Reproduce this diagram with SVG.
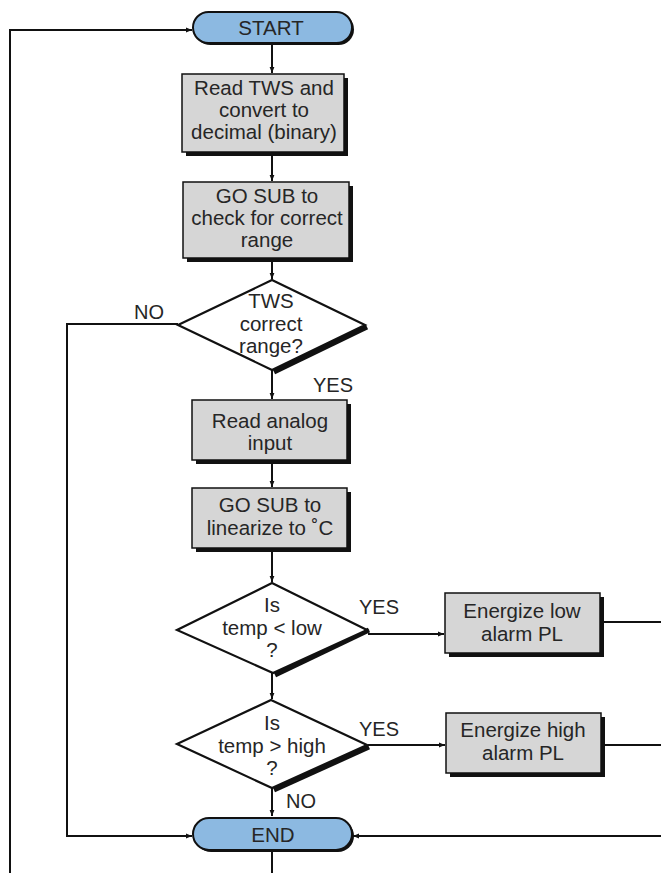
<svg xmlns="http://www.w3.org/2000/svg" width="661" height="873" viewBox="0 0 661 873">
<defs>
<style>
.t{font-family:"Liberation Sans",Arial,sans-serif;font-size:20.5px;fill:#262626;text-anchor:middle}
.l{font-family:"Liberation Sans",Arial,sans-serif;font-size:20px;fill:#262626}
.box{fill:#d6d6d6;stroke:#111;stroke-width:1.5}
.term{fill:#8cb9e1;stroke:#111;stroke-width:2}
.dia{fill:#fff;stroke:#111;stroke-width:2.2}
.sh{fill:#111}
.c{fill:none;stroke:#111;stroke-width:2}
</style>
<marker id="a" viewBox="0 0 10 10" refX="10" refY="5" markerWidth="8" markerHeight="6" markerUnits="userSpaceOnUse" orient="auto">
<path d="M0,1 L10,5 L0,9 Z" fill="#111"/>
</marker>
</defs>

<g id="connectors">
<path class="c" d="M10,873 V30 H192" marker-end="url(#a)"/>
<path class="c" d="M272,44 V73" marker-end="url(#a)"/>
<path class="c" d="M272,152 V181" marker-end="url(#a)"/>
<path class="c" d="M272,258 V279" marker-end="url(#a)"/>
<path class="c" d="M178,324 H67 V836 H192" marker-end="url(#a)"/>
<path class="c" d="M272,370 V399" marker-end="url(#a)"/>
<path class="c" d="M272,460 V487" marker-end="url(#a)"/>
<path class="c" d="M272,548 V582" marker-end="url(#a)"/>
<path class="c" d="M368,634 H444" marker-end="url(#a)"/>
<path class="c" d="M600,622 H661"/>
<path class="c" d="M272,673 V699" marker-end="url(#a)"/>
<path class="c" d="M368,745 H445" marker-end="url(#a)"/>
<path class="c" d="M600,745 H661"/>
<path class="c" d="M272,788 V816" marker-end="url(#a)"/>
<path class="c" d="M661,836 H353" marker-end="url(#a)"/>
<path class="c" d="M272,851 V873"/>
<text class="l" x="134" y="319">NO</text>
<text class="l" x="313" y="392">YES</text>
<text class="l" x="359" y="614">YES</text>
<text class="l" x="359" y="736">YES</text>
<text class="l" x="286" y="808">NO</text>
</g>

<g id="start">
<rect class="sh" x="195" y="14" width="159" height="31" rx="15.5"/>
<rect class="term" x="193" y="12" width="159" height="31" rx="15.5"/>
<text class="t" x="271" y="35">START</text>
</g>

<g id="read-tws">
<rect class="sh" x="186" y="78" width="162" height="78"/>
<rect class="box" x="182" y="74" width="162" height="78"/>
<text class="t" x="264" y="95">Read TWS and</text>
<text class="t" x="264" y="117">convert to</text>
<text class="t" x="264" y="139">decimal (binary)</text>
</g>

<g id="gosub-range">
<rect class="sh" x="187" y="186" width="166" height="76"/>
<rect class="box" x="183" y="182" width="166" height="76"/>
<text class="t" x="267" y="203">GO SUB to</text>
<text class="t" x="267" y="225">check for correct</text>
<text class="t" x="267" y="247">range</text>
</g>

<g id="tws-range">
<path d="M272,370 L365,325" stroke="#111" stroke-width="5" transform="translate(2,2)"/>
<polygon class="dia" points="272,280 365,325 272,370 178,325"/>
<text class="t" x="271" y="308">TWS</text>
<text class="t" x="271" y="331">correct</text>
<text class="t" x="271" y="353">range?</text>
</g>

<g id="read-analog">
<rect class="sh" x="196" y="404" width="155" height="60"/>
<rect class="box" x="192" y="400" width="155" height="60"/>
<text class="t" x="270" y="428">Read analog</text>
<text class="t" x="270" y="450">input</text>
</g>

<g id="gosub-linearize">
<rect class="sh" x="196" y="492" width="155" height="60"/>
<rect class="box" x="192" y="488" width="155" height="60"/>
<text class="t" x="270" y="512">GO SUB to</text>
<text class="t" x="270" y="535">linearize to ˚C</text>
</g>

<g id="temp-low">
<path d="M273,673 L367,628" stroke="#111" stroke-width="5" transform="translate(2,2)"/>
<polygon class="dia" points="272,583 367,630 273,673 177,630"/>
<text class="t" x="272" y="612">Is</text>
<text class="t" x="272" y="635">temp &lt; low</text>
<text class="t" x="272" y="657">?</text>
</g>

<g id="energize-low">
<rect class="sh" x="449" y="597" width="155" height="60"/>
<rect class="box" x="445" y="593" width="155" height="60"/>
<text class="t" x="522" y="618">Energize low</text>
<text class="t" x="522" y="641">alarm PL</text>
</g>

<g id="temp-high">
<path d="M272,788 L367,745" stroke="#111" stroke-width="5" transform="translate(2,2)"/>
<polygon class="dia" points="271,700 367,745 272,788 177,744"/>
<text class="t" x="272" y="730">Is</text>
<text class="t" x="272" y="753">temp &gt; high</text>
<text class="t" x="272" y="775">?</text>
</g>

<g id="energize-high">
<rect class="sh" x="450" y="717" width="155" height="60"/>
<rect class="box" x="446" y="713" width="155" height="60"/>
<text class="t" x="523" y="737">Energize high</text>
<text class="t" x="523" y="760">alarm PL</text>
</g>

<g id="end">
<rect class="sh" x="195" y="820" width="159" height="32" rx="16"/>
<rect class="term" x="193" y="818" width="159" height="32" rx="16"/>
<text class="t" x="273" y="842">END</text>
</g>
</svg>
